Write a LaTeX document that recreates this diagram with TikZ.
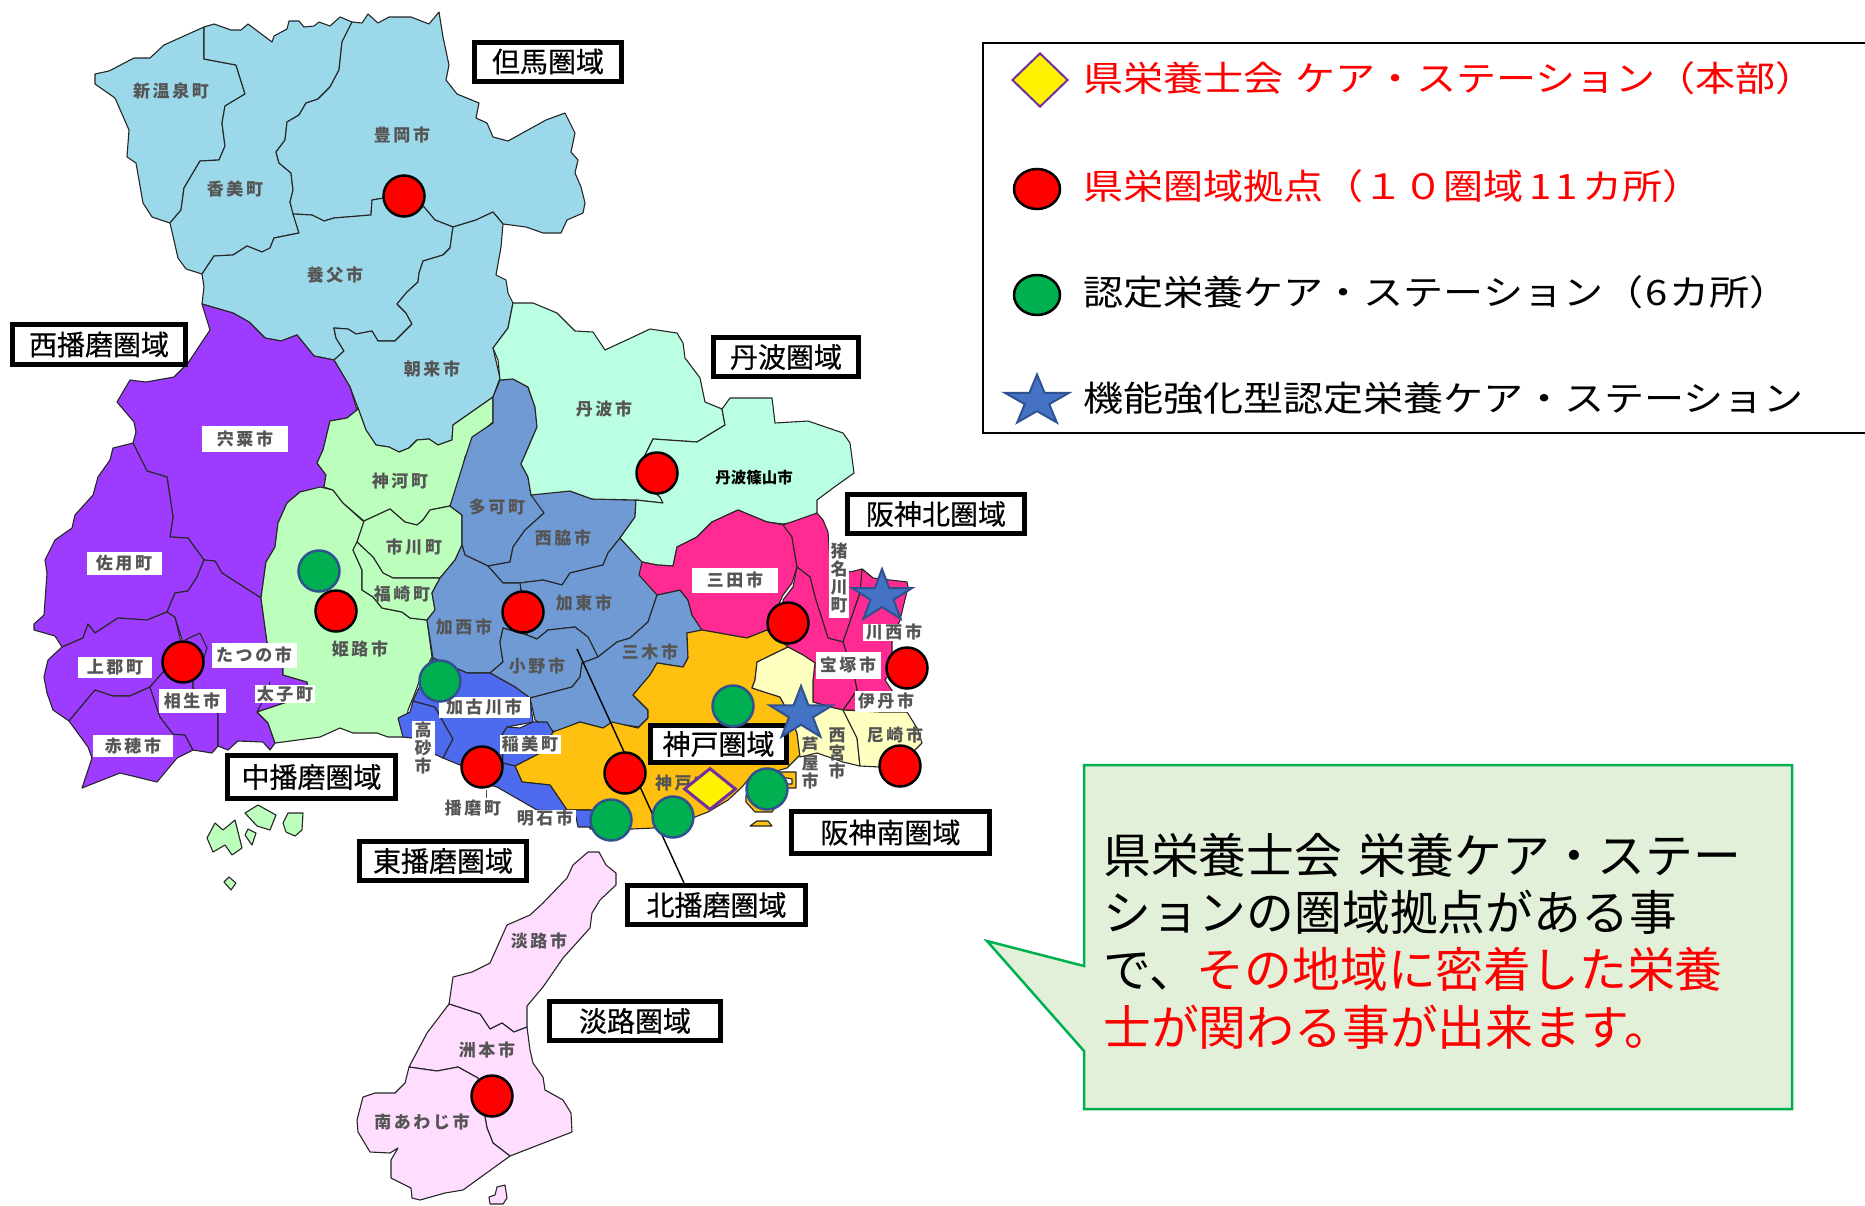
\documentclass[tikz,border=0pt]{standalone}
\usepackage{fontspec}
\usetikzlibrary{shapes.geometric}
\setmainfont{Noto Sans CJK JP}
\newfontfamily\cjkf{Noto Sans CJK JP}
\newfontfamily\areaf[FakeBold=0.5]{Noto Sans CJK JP}
\newfontfamily\legf[FakeStretch=1.145]{Noto Sans CJK JP}
\newfontfamily\lblf[LetterSpace=15]{Noto Sans CJK JP}
\definecolor{tajima}{RGB}{155,216,233}
\definecolor{nishi}{RGB}{157,60,255}
\definecolor{naka}{RGB}{188,255,189}
\definecolor{kita}{RGB}{112,154,211}
\definecolor{higashi}{RGB}{78,107,240}
\definecolor{tanba}{RGB}{187,255,227}
\definecolor{hkita}{RGB}{255,42,146}
\definecolor{hminami}{RGB}{255,255,192}
\definecolor{kobe}{RGB}{255,192,16}
\definecolor{awaji}{RGB}{255,221,255}
\definecolor{lblgray}{RGB}{85,85,85}
\definecolor{mgreen}{RGB}{0,176,80}
\definecolor{mblue}{RGB}{47,82,143}
\definecolor{sblue}{RGB}{68,114,196}
\definecolor{mpurple}{RGB}{112,48,160}
\definecolor{callfill}{RGB}{226,239,217}
\tikzset{
 reg/.style={draw=black!85,line width=1.1pt,line join=round},
 nakareg/.style={reg,fill=naka},
 lab/.style={font=\lblf\bfseries\fontsize{17}{18}\selectfont,text=lblgray,inner sep=0pt},
 wlab/.style={font=\lblf\bfseries\fontsize{17}{18}\selectfont,text=lblgray,fill=white,inner sep=0pt},
 vlab/.style={lab,align=center,font=\lblf\bfseries\fontsize{17}{18}\selectfont},
 areabox/.style={draw=black,line width=5pt,fill=white,inner sep=0pt,font=\areaf\fontsize{28}{30}\selectfont,text=black},
 redm/.style={circle,draw=black,line width=2.5pt,fill=red,minimum size=41pt,inner sep=0pt},
 greenm/.style={circle,draw=mblue,line width=2.5pt,fill=mgreen,minimum size=41pt,inner sep=0pt},
 starm/.style={star,star points=5,star point ratio=2.618,draw=mblue,line width=2pt,fill=sblue,inner sep=0pt,transform shape},
 legt/.style={anchor=west,inner sep=0pt,font=\legf\fontsize{35}{37}\selectfont},
}
\begin{document}
\begin{tikzpicture}[x=1pt,y=-1pt]
\useasboundingbox (0,0) rectangle (1865,1205);
% Tajima
\draw[reg,fill=tajima] (204,27)--(164,45)--(150,58)--(134,58)--(109,71)--(95,74)--(95,84)--(115,98)--(129,130)--(127,157)--(136,163)--(143,203)--(152,217)--(170,223)--(181,210)--(184,188)--(200,161)--(219,160)--(225,146)--(222,123)--(225,106)--(245,94)--(236,65)--(204,59)--cycle;
\draw[reg,fill=tajima] (204,27)--(214,24)--(231,30)--(241,30)--(248,24)--(272,42)--(274,36)--(287,29)--(289,21)--(299,21)--(304,27)--(314,26)--(319,22)--(330,26)--(340,17)--(352,22)--(342,42)--(339,70)--(330,87)--(318,99)--(306,103)--(299,115)--(287,122)--(285,140)--(276,152)--(279,163)--(291,173)--(293,190)--(290,202)--(299,233)--(274,238)--(270,248)--(262,252)--(247,246)--(233,255)--(214,256)--(202,274)--(186,269)--(178,258)--(170,223)--(181,210)--(184,188)--(200,161)--(219,160)--(225,146)--(222,123)--(225,106)--(245,94)--(236,65)--(204,59)--cycle;
\draw[reg,fill=tajima] (352,22)--(362,23)--(368,14)--(378,23)--(389,17)--(411,17)--(429,24)--(439,12)--(443,37)--(449,65)--(446,80)--(457,94)--(479,103)--(476,118)--(487,123)--(493,137)--(508,141)--(546,120)--(565,113)--(575,133)--(571,152)--(578,160)--(575,173)--(581,187)--(585,203)--(583,213)--(567,220)--(561,233)--(543,233)--(526,227)--(503,224)--(493,212)--(476,220)--(453,227)--(435,220)--(424,207)--(384,198)--(372,200)--(371,215)--(334,218)--(324,221)--(312,215)--(293,214)--(290,202)--(293,190)--(291,173)--(279,163)--(276,152)--(285,140)--(287,122)--(299,115)--(306,103)--(318,99)--(330,87)--(339,70)--(342,42)--cycle;
\draw[reg,fill=tajima] (299,233)--(293,214)--(312,215)--(324,221)--(334,218)--(371,215)--(372,200)--(384,198)--(424,207)--(435,220)--(453,227)--(450,248)--(443,255)--(423,261)--(419,273)--(418,282)--(407,292)--(397,304)--(406,313)--(412,324)--(395,341)--(378,341)--(372,331)--(356,334)--(348,329)--(334,328)--(336,338)--(344,351)--(334,360)--(314,356)--(297,335)--(281,341)--(265,338)--(249,322)--(233,313)--(202,304)--(204,287)--(202,274)--(214,256)--(233,255)--(247,246)--(262,252)--(270,248)--(274,238)--cycle;
\draw[reg,fill=tajima] (453,227)--(476,220)--(493,212)--(503,224)--(501,247)--(496,275)--(506,280)--(508,293)--(513,303)--(508,328)--(493,348)--(500,378)--(493,397)--(453,425)--(452,440)--(438,445)--(429,439)--(417,440)--(409,448)--(399,452)--(389,447)--(376,445)--(366,430)--(358,408)--(350,387)--(334,360)--(344,351)--(336,338)--(334,328)--(348,329)--(356,334)--(372,331)--(378,341)--(395,341)--(412,324)--(406,313)--(397,304)--(407,292)--(418,282)--(419,273)--(423,261)--(443,255)--(450,248)--cycle;
% Nishi-Harima
\draw[reg,fill=nishi] (202,304)--(233,313)--(249,322)--(265,338)--(281,341)--(297,335)--(314,356)--(334,360)--(350,387)--(357,410)--(347,418)--(330,421)--(323,450)--(317,463)--(326,475)--(324,487)--(300,492)--(287,503)--(278,523)--(275,547)--(266,562)--(261,598)--(222,573)--(215,561)--(204,560)--(188,538)--(170,537)--(173,517)--(167,477)--(147,471)--(133,443)--(136,432)--(134,422)--(117,402)--(130,380)--(146,382)--(174,377)--(188,363)--(210,330)--cycle;
\draw[reg,fill=nishi] (133,443)--(113,448)--(110,460)--(98,477)--(93,495)--(75,515)--(72,528)--(55,540)--(45,560)--(47,573)--(44,615)--(34,624)--(34,630)--(55,636)--(62,647)--(83,638)--(88,624)--(95,633)--(118,618)--(147,620)--(167,612)--(175,593)--(188,591)--(197,577)--(204,560)--(188,538)--(170,537)--(173,517)--(167,477)--(147,471)--cycle;
\draw[reg,fill=nishi] (62,647)--(83,638)--(88,624)--(95,633)--(118,618)--(147,620)--(167,612)--(175,617)--(180,638)--(185,660)--(163,672)--(150,687)--(130,696)--(113,696)--(95,690)--(69,721)--(53,710)--(47,693)--(44,677)--(48,660)--cycle;
\draw[reg,fill=nishi] (69,721)--(95,690)--(113,696)--(130,696)--(150,687)--(152,693)--(160,717)--(173,734)--(185,735)--(193,750)--(177,758)--(157,782)--(120,773)--(82,788)--(92,758)--(88,747)--cycle;
\draw[reg,fill=nishi] (150,687)--(163,672)--(193,675)--(193,688)--(218,713)--(218,746)--(212,753)--(193,750)--(185,735)--(173,734)--(160,717)--(152,693)--cycle;
\draw[reg,fill=nishi] (167,612)--(175,593)--(188,591)--(197,577)--(204,560)--(215,561)--(222,573)--(261,598)--(263,613)--(267,642)--(283,668)--(283,675)--(307,682)--(308,687)--(287,702)--(257,712)--(268,723)--(275,743)--(270,750)--(263,742)--(238,741)--(228,750)--(218,746)--(218,713)--(193,688)--(193,675)--(175,617)--cycle;
\draw[reg] (270,682)--(267,693)--(257,712);
\draw[reg] (185,640)--(200,633)--(207,648)--(203,660);
% Naka-Harima
\draw[nakareg] (261,598)--(263,613)--(267,642)--(283,668)--(283,675)--(307,682)--(308,687)--(287,702)--(257,712)--(268,723)--(275,743)--(283,742)--(320,737)--(340,728)--(353,733)--(377,733)--(388,737)--(405,737)--(408,710)--(415,693)--(419,682)--(432,657)--(427,620)--(410,618)--(402,612)--(382,608)--(373,597)--(362,590)--(362,570)--(353,550)--(357,542)--(364,522)--(343,503)--(333,490)--(320,487)--(300,492)--(287,503)--(278,523)--(275,547)--(266,562)--cycle;
\draw[nakareg] (324,487)--(326,475)--(317,463)--(323,450)--(330,421)--(347,418)--(357,410)--(358,408)--(366,430)--(376,445)--(389,447)--(399,452)--(409,448)--(417,440)--(429,439)--(438,445)--(452,440)--(453,425)--(493,397)--(493,422)--(480,433)--(465,457)--(460,483)--(450,506)--(430,510)--(423,520)--(417,525)--(405,522)--(390,509)--(364,521)--(343,503)--(333,490)--cycle;
\draw[nakareg] (364,521)--(390,509)--(405,522)--(417,525)--(423,520)--(430,510)--(450,506)--(462,515)--(462,545)--(455,560)--(440,578)--(393,578)--(383,573)--(373,557)--(357,542)--cycle;
\draw[nakareg] (357,542)--(373,557)--(383,573)--(393,578)--(440,578)--(432,593)--(435,610)--(427,620)--(410,618)--(402,612)--(382,608)--(373,597)--(362,590)--(362,570)--(353,550)--cycle;
\draw[nakareg] (207,838)--(215,823)--(223,830)--(235,820)--(242,848)--(232,855)--(225,845)--(213,852)--cycle;
\draw[nakareg] (245,813)--(258,805)--(276,815)--(270,830)--(257,826)--cycle;
\draw[nakareg] (283,823)--(288,813)--(303,813)--(302,830)--(295,836)--(286,832)--cycle;
\draw[nakareg] (245,835)--(248,829)--(256,833)--(252,845)--cycle;
\draw[nakareg] (224,882)--(229,877)--(236,883)--(231,890)--cycle;
% Kita-Harima
\draw[reg,fill=kita] (493,397)--(500,380)--(513,379)--(528,387)--(535,407)--(537,427)--(528,448)--(521,464)--(528,477)--(531,495)--(544,493)--(544,513)--(525,530)--(513,547)--(510,562)--(488,566)--(465,555)--(462,545)--(462,515)--(450,506)--(466,455)--(472,437)--(493,423)--cycle;
\draw[reg,fill=kita] (531,495)--(544,493)--(570,491)--(592,499)--(636,500)--(635,517)--(620,538)--(608,553)--(603,565)--(570,573)--(562,585)--(543,580)--(520,583)--(503,583)--(488,566)--(510,562)--(513,547)--(525,530)--(544,513)--cycle;
\draw[reg,fill=kita] (520,583)--(543,580)--(562,585)--(570,573)--(603,565)--(608,553)--(620,538)--(643,562)--(657,595)--(648,622)--(630,638)--(617,642)--(598,657)--(588,637)--(575,627)--(548,630)--(537,639)--(527,635)--cycle;
\draw[reg,fill=kita] (462,545)--(465,555)--(488,566)--(503,583)--(520,583)--(527,635)--(503,628)--(500,642)--(503,662)--(490,673)--(467,673)--(433,658)--(427,620)--(435,610)--(432,593)--(440,578)--(455,560)--cycle;
\draw[reg,fill=kita] (503,628)--(527,635)--(537,639)--(548,630)--(575,627)--(588,637)--(598,657)--(582,663)--(580,677)--(572,687)--(530,698)--(515,687)--(490,673)--(503,662)--(500,642)--cycle;
\draw[reg,fill=kita] (657,595)--(680,590)--(688,600)--(692,615)--(702,630)--(687,633)--(688,658)--(683,667)--(657,663)--(650,675)--(633,695)--(648,710)--(648,718)--(639,727)--(612,723)--(603,728)--(580,722)--(555,732)--(535,720)--(530,698)--(572,687)--(580,677)--(582,663)--(598,657)--(617,642)--(630,638)--(648,622)--cycle;
% Tanba
\draw[reg,fill=tanba] (513,303)--(533,303)--(557,313)--(575,331)--(593,332)--(605,350)--(633,337)--(650,329)--(677,333)--(683,343)--(685,358)--(700,378)--(705,402)--(722,409)--(725,425)--(697,442)--(653,439)--(645,455)--(640,480)--(660,497)--(663,503)--(636,500)--(592,499)--(570,491)--(531,495)--(528,477)--(521,464)--(528,448)--(537,427)--(535,407)--(528,387)--(513,379)--(500,380)--(498,360)--(493,348)--(508,328)--cycle;
\draw[reg,fill=tanba] (722,409)--(730,398)--(772,398)--(775,423)--(808,421)--(843,433)--(850,443)--(854,473)--(833,488)--(817,500)--(817,513)--(808,520)--(783,524)--(767,522)--(738,510)--(712,522)--(697,537)--(677,547)--(673,566)--(657,565)--(642,562)--(620,538)--(635,517)--(636,500)--(663,503)--(660,497)--(640,480)--(645,455)--(653,439)--(697,442)--(725,425)--cycle;
% Hanshin-kita
\draw[reg,fill=hkita] (639,575)--(642,562)--(657,565)--(673,566)--(677,547)--(697,537)--(712,522)--(738,510)--(767,522)--(785,525)--(792,537)--(797,567)--(792,583)--(783,595)--(767,630)--(747,638)--(702,630)--(692,615)--(688,600)--(680,590)--(657,595)--cycle;
\draw[reg,fill=hkita] (783,525)--(817,513)--(823,520)--(828,532)--(830,560)--(850,572)--(862,569)--(873,578)--(860,593)--(843,642)--(828,638)--(815,597)--(810,577)--(797,567)--(792,537)--cycle;
\draw[reg,fill=hkita] (862,569)--(873,578)--(907,582)--(908,587)--(900,620)--(892,640)--(892,670)--(885,680)--(895,695)--(907,712)--(843,710)--(857,690)--(855,680)--(843,642)--(860,593)--cycle;
\draw[reg,fill=hkita] (797,567)--(810,577)--(815,597)--(828,638)--(843,642)--(855,680)--(857,690)--(843,710)--(830,707)--(813,702)--(813,680)--(815,663)--(803,655)--(788,647)--(783,600)--(793,587)--cycle;
% Kobe
\draw[reg,fill=kobe] (515,766)--(540,753)--(553,732)--(580,722)--(603,728)--(612,722)--(638,728)--(648,718)--(648,710)--(633,695)--(650,675)--(657,663)--(683,667)--(688,658)--(687,633)--(702,630)--(747,638)--(767,630)--(788,647)--(757,662)--(755,680)--(752,688)--(780,697)--(787,710)--(797,733)--(800,755)--(787,768)--(773,772)--(750,777)--(742,787)--(728,800)--(708,812)--(695,817)--(653,828)--(632,829)--(590,829)--(590,810)--(567,810)--(550,785)--(522,782)--cycle;
\draw[reg,fill=kobe] (770,772)--(796,772)--(796,788)--(787,788)--(787,784)--(792,784)--(792,779)--(787,778)--(770,778)--cycle;
\draw[reg,fill=kobe] (746,795)--(746,802)--(755,812)--(772,812)--(780,800)--(775,790)--cycle;
\draw[reg,fill=kobe] (750,826)--(757,821)--(768,821)--(772,826)--cycle;
% Hanshin-minami
\draw[reg,fill=hminami] (788,647)--(803,655)--(815,663)--(813,680)--(813,702)--(830,707)--(843,710)--(857,738)--(860,766)--(843,762)--(817,753)--(800,757)--(797,733)--(787,710)--(780,697)--(752,688)--(755,680)--(757,662)--cycle;
\draw[reg,fill=hminami] (843,710)--(880,712)--(907,712)--(917,728)--(922,743)--(905,760)--(880,767)--(860,766)--(857,738)--cycle;
% Higashi-Harima
\draw[reg,fill=higashi] (413,701)--(435,707)--(445,725)--(453,739)--(443,758)--(430,752)--(412,738)--(403,737)--(398,718)--(410,712)--cycle;
\draw[reg,fill=higashi] (417,692)--(433,658)--(467,673)--(490,673)--(515,687)--(530,698)--(533,722)--(507,727)--(502,735)--(503,763)--(490,765)--(460,765)--(443,758)--(453,739)--(445,725)--(435,707)--(413,701)--cycle;
\draw[reg,fill=higashi] (533,722)--(547,722)--(553,732)--(540,753)--(515,766)--(503,763)--(502,735)--(507,727)--(520,728)--cycle;
\draw[reg,fill=higashi] (490,750)--(503,763)--(515,766)--(522,782)--(550,785)--(567,810)--(595,810)--(595,827)--(578,827)--(575,812)--(537,810)--(497,787)--(470,780)--cycle;
% Awaji
\draw[reg,fill=awaji] (588,852)--(599,852)--(606,865)--(616,873)--(616,885)--(600,900)--(592,913)--(590,928)--(563,958)--(543,987)--(527,1006)--(527,1027)--(514,1032)--(502,1023)--(490,1029)--(480,1014)--(449,1004)--(453,977)--(472,972)--(490,963)--(507,925)--(530,915)--(543,903)--(567,878)--(573,865)--cycle;
\draw[reg,fill=awaji] (449,1004)--(480,1014)--(490,1029)--(502,1023)--(514,1032)--(527,1027)--(530,1050)--(533,1063)--(543,1077)--(545,1090)--(563,1100)--(571,1113)--(572,1132)--(510,1156)--(493,1143)--(487,1128)--(478,1078)--(458,1067)--(437,1071)--(409,1067)--(427,1033)--cycle;
\draw[reg,fill=awaji] (409,1067)--(437,1071)--(458,1067)--(478,1078)--(487,1128)--(493,1143)--(510,1156)--(463,1190)--(445,1193)--(420,1200)--(412,1198)--(411,1188)--(391,1178)--(391,1160)--(398,1148)--(390,1153)--(370,1152)--(358,1132)--(357,1120)--(363,1097)--(375,1093)--(395,1093)--(405,1083)--cycle;
\draw[reg,fill=awaji] (489,1197)--(495,1195)--(497,1187)--(505,1185)--(507,1198)--(503,1204)--(490,1204)--cycle;
% leader lines
\coordinate (leadStart) at (577,649);
\coordinate (leadEnd) at (684,883);
\coordinate (harimaTick) at (486,790);
\coordinate (harimaTickEnd) at (486,798);
\draw[black,line width=1.4pt] (leadStart)--(leadEnd);
\draw[black!70,line width=1pt] (harimaTick)--(harimaTickEnd);
% labels
\node[lab] (l1) at (171,91) {新温泉町};
\node[lab] (l2) at (235,189) {香美町};
\node[lab] (l3) at (402,135) {豊岡市};
\node[lab] (l4) at (335,275) {養父市};
\node[lab] (l5) at (432,369) {朝来市};
\node[wlab,minimum width=86pt,minimum height=26pt] (l6) at (245,439) {宍粟市};
\node[wlab,minimum width=75pt,minimum height=23pt] (l7) at (124,563) {佐用町};
\node[wlab,minimum width=74pt,minimum height=21pt] (l8) at (115,667) {上郡町};
\node[wlab,minimum width=85pt,minimum height=25pt] (l9) at (254,655) {たつの市};
\node[wlab,minimum width=67pt,minimum height=24pt] (l10) at (192,701) {相生市};
\node[wlab,minimum width=60pt,minimum height=18pt] (l11) at (285,694) {太子町};
\node[wlab,minimum width=80pt,minimum height=22pt] (l12) at (133,746) {赤穂市};
\node[lab] (l13) at (360,649) {姫路市};
\node[lab] (l14) at (400,481) {神河町};
\node[lab] (l15) at (414,547) {市川町};
\node[lab] (l16) at (402,594) {福崎町};
\node[lab] (l17) at (497,507) {多可町};
\node[lab] (l18) at (563,538) {西脇市};
\node[lab] (l19) at (584,603) {加東市};
\node[lab] (l20) at (464,627) {加西市};
\node[lab] (l21) at (537,666) {小野市};
\node[lab] (l22) at (650,652) {三木市};
\node[lab] (l23) at (604,409) {丹波市};
\node[inner sep=0pt,font=\cjkf\bfseries\fontsize{15.5}{17}\selectfont,text=black] (l24) at (754,478) {丹波篠山市};
\node[wlab,minimum width=86pt,minimum height=25pt] (l25) at (735,580) {三田市};
\node[wlab,vlab,fill=white,minimum width=20pt,minimum height=79pt,align=center] (l26) at (839,578) {猪\\名\\川\\町};
\node[wlab,minimum width=63pt,minimum height=17pt] (l27) at (894,632) {川西市};
\node[wlab,minimum width=65pt,minimum height=27pt] (l28) at (848,665) {宝塚市};
\node[wlab,minimum width=62pt,minimum height=21pt] (l29) at (886,701) {伊丹市};
\node[lab] (l30) at (895,735) {尼崎市};
\node[vlab] (l31) at (837,753) {西\\宮\\市};
\node[vlab] (l32) at (810,763) {芦\\屋\\市};
\node[lab,anchor=west] (l33) at (655,783) {神戸市};
\node[wlab,vlab,fill=white,minimum width=23pt,minimum height=55pt] (l34) at (423,748) {高\\砂\\市};
\node[wlab,minimum width=91pt,minimum height=21pt] (l35) at (484,707) {加古川市};
\node[wlab,minimum width=61pt,minimum height=19pt] (l36) at (530,744) {稲美町};
\node[lab] (l37) at (473,808) {播磨町};
\node[wlab,minimum width=61pt,minimum height=17pt] (l38) at (545,818) {明石市};
\node[lab] (l39) at (487,1050) {洲本市};
\node[lab] (l40) at (539,941) {淡路市};
\node[lab] (l41) at (422,1122) {南あわじ市};
% area boxes
\node[areabox,minimum width=147pt,minimum height=39pt] (a1) at (548,61.5) {但馬圏域};
\node[areabox,minimum width=173pt,minimum height=40pt] (a2) at (99,344.5) {西播磨圏域};
\node[areabox,minimum width=145pt,minimum height=39pt] (a3) at (786,357) {丹波圏域};
\node[areabox,minimum width=177pt,minimum height=39pt] (a4) at (936,514) {阪神北圏域};
\node[areabox,minimum width=168pt,minimum height=43pt] (a5) at (311.5,777) {中播磨圏域};
\node[areabox,minimum width=167pt,minimum height=39pt] (a6) at (443,861) {東播磨圏域};
\node[areabox,minimum width=136pt,minimum height=37pt] (a7) at (718.5,744) {神戸圏域};
\node[areabox,minimum width=198pt,minimum height=42pt] (a8) at (890.5,832.5) {阪神南圏域};
\node[areabox,minimum width=178pt,minimum height=39pt] (a9) at (716.5,905) {北播磨圏域};
\node[areabox,minimum width=171pt,minimum height=39pt] (a10) at (635,1021) {淡路圏域};
% markers
\node[redm] (r1) at (404,196) {};
\node[redm] (r2) at (657,473) {};
\node[redm] (r3) at (336,611) {};
\node[redm] (r4) at (183,662) {};
\node[redm] (r5) at (523,612) {};
\node[redm] (r6) at (788,623) {};
\node[redm] (r7) at (907,668) {};
\node[redm] (r8) at (900,766) {};
\node[redm] (r9) at (482,767) {};
\node[redm] (r10) at (625,773) {};
\node[redm] (r11) at (492,1096) {};
\node[greenm] (g1) at (319,571) {};
\node[greenm] (g2) at (440,681) {};
\node[greenm] (g3) at (733,706) {};
\node[greenm] (g4) at (767,789) {};
\node[greenm] (g5) at (673,817) {};
\node[greenm] (g6) at (611,820) {};
\node[starm,minimum size=56pt,xscale=1.18] (s1) at (801,714) {};
\node[starm,minimum size=55pt,xscale=1.15] (s2) at (882,596.5) {};
\node[diamond,draw=mpurple,line width=3pt,fill=yellow,minimum width=52pt,minimum height=42pt,inner sep=0pt] (d1) at (710,789) {};
% legend
\coordinate (legTR) at (1865,43);
\coordinate (legTL) at (983,43);
\coordinate (legBL) at (983,433);
\coordinate (legBR) at (1865,433);
\draw[black,line width=1.6pt] (legTR)--(legTL)--(legBL)--(legBR);
\node[diamond,draw=mpurple,line width=2pt,fill=yellow,minimum width=56pt,minimum height=54pt,inner sep=0pt] (ld) at (1040,80) {};
\node[ellipse,draw=black,line width=2.5pt,fill=red,minimum width=46pt,minimum height=40pt,inner sep=0pt] (lr) at (1037,189) {};
\node[ellipse,draw=black,line width=2.5pt,fill=mgreen,minimum width=46pt,minimum height=40pt,inner sep=0pt] (lg) at (1037,295) {};
\node[starm,minimum size=53pt,xscale=1.27] (ls) at (1037,401) {};
\node[legt,text=red] (t1) at (1083,78) {県栄養士会\hspace*{.35em}ケア・ステーション（本部）};
\node[legt,text=red] (t2) at (1083,186) {県栄圏域拠点（１０圏域\hspace*{5pt}1\hspace*{4pt}1\hspace*{5pt}カ所）};
\node[legt,text=black] (t3) at (1083,292) {認定栄養ケア・ステーション（\hspace*{2pt}6\hspace*{2pt}カ所）};
\node[legt,text=black] (t4) at (1083,398) {機能強化型認定栄養ケア・ステーション};
% callout
\draw[draw=mgreen,line width=2.5pt,fill=callfill,line join=miter] (1084,765)--(1792,765)--(1792,1109)--(1084,1109)--(1084,1051)--(987,941)--(1084,966)--cycle;
\node[anchor=west,inner sep=0pt,align=left,font=\cjkf\fontsize{47.8}{57.3}\selectfont] (ct) at (1103,941) {県栄養士会\hspace*{.35em}栄養ケア・ステー\\ションの圏域拠点がある事\\で、\textcolor{red}{その地域に密着した栄養}\\\textcolor{red}{士が関わる事が出来ます。}};
\end{tikzpicture}
\end{document}
